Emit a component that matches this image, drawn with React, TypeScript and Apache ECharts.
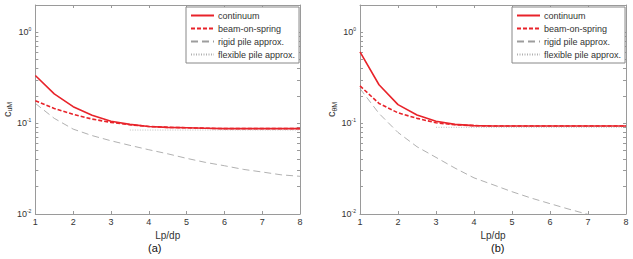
import React, { useEffect, useRef } from "react";
import * as echarts from "echarts";

const xs = [1, 1.5, 2, 2.5, 3, 3.5, 4, 4.5, 5, 5.5, 6, 6.5, 7, 7.5, 8];
const xTicks = [1, 2, 3, 4, 5, 6, 7, 8];
const yMajor = [0.01, 0.1, 1];
const yMinor = [0.02, 0.03, 0.04, 0.05, 0.06, 0.07, 0.08, 0.09, 0.2, 0.3, 0.4, 0.5, 0.6, 0.7, 0.8, 0.9, 2];

const aContinuum = [0.335, 0.21, 0.152, 0.122, 0.105, 0.097, 0.092, 0.09, 0.089, 0.088, 0.087, 0.087, 0.087, 0.087, 0.087];
const aBeam = [0.177, 0.145, 0.125, 0.111, 0.102, 0.096, 0.092, 0.09, 0.089, 0.088, 0.087, 0.087, 0.087, 0.087, 0.087];
const aRigid = [0.165, 0.113, 0.086, 0.073, 0.064, 0.057, 0.051, 0.046, 0.041, 0.037, 0.034, 0.031, 0.029, 0.027, 0.026];
const aFlexX = [3.5, 8];
const aFlex = [0.084, 0.084];

const bContinuum = [0.61, 0.265, 0.16, 0.123, 0.105, 0.097, 0.094, 0.093, 0.093, 0.093, 0.093, 0.093, 0.093, 0.093, 0.093];
const bBeam = [0.257, 0.165, 0.13, 0.113, 0.101, 0.096, 0.094, 0.093, 0.093, 0.093, 0.093, 0.093, 0.093, 0.093, 0.093];
const bRigid = [0.24, 0.128, 0.079, 0.055, 0.042, 0.032, 0.025, 0.021, 0.0176, 0.015, 0.013, 0.0113, 0.0099, 0.0087, 0.0077];
const bFlexX = [3, 8];
const bFlex = [0.09, 0.09];

const names = ["continuum", "beam-on-spring", "rigid pile approx.", "flexible pile approx."];

const FONT = "Liberation Sans, Arial, sans-serif";
const RED = "#e8232a";
const AXIS = "#9a9a9a";
const TXT = "#333";

function pairs(x: number[], y: number[]) {
  return x.map((v, i) => [v, y[i]]);
}

export default function App() {
  const ref = useRef<HTMLDivElement>(null);
  useEffect(() => {
    const chart = echarts.init(ref.current!, null, { renderer: "svg" });
    const grids = [
      { left: 34, top: 5, width: 266, height: 209 },
      { left: 360, top: 5, width: 266, height: 209 },
    ];
    const xAxis: any[] = [];
    const yAxis: any[] = [];
    const yName = ["{c|c}{s|uM}", "{c|c}{s|θM}"];
    const rich = {
      c: { fontSize: 11, color: TXT, fontFamily: FONT },
      s: { fontSize: 7, color: TXT, fontFamily: FONT, verticalAlign: "bottom", padding: [6, 0, 0, 0] },
    };
    grids.forEach((_, g) => {
      const baseX = {
        type: "value",
        gridIndex: g,
        min: 1,
        max: 8,
        interval: 1,
        splitLine: { show: false },
        axisLine: { lineStyle: { color: AXIS, width: 1 } },
        axisTick: { inside: true, length: 3, lineStyle: { color: AXIS } },
      };
      xAxis.push({
        ...baseX,
        position: "bottom",
        name: "Lp/dp",
        nameLocation: "middle",
        nameGap: 12,
        nameTextStyle: { fontSize: 10, color: TXT, fontFamily: FONT },
        axisLabel: { fontSize: 9, color: TXT, fontFamily: FONT, margin: 3, customValues: xTicks },
        axisTick: { ...baseX.axisTick, customValues: xTicks },
      });
      xAxis.push({
        ...baseX,
        position: "top",
        axisLabel: { show: false },
        axisTick: { ...baseX.axisTick, customValues: xTicks },
      });
      const baseY = {
        type: "log",
        logBase: 10,
        gridIndex: g,
        min: 0.01,
        max: 2,
        splitLine: { show: false },
        minorTick: { show: false },
        axisLine: { lineStyle: { color: AXIS, width: 1 } },
      };
      yAxis.push({
        ...baseY,
        position: "left",
        name: yName[g],
        nameLocation: "middle",
        nameRotate: 90,
        nameGap: 20,
        nameTextStyle: { rich },
        axisLabel: {
          customValues: yMajor,
          margin: 4,
          formatter: (v: number) => `{b|10}{e|${Math.round(Math.log10(v))}}`,
          rich: {
            b: { fontSize: 9, color: TXT, fontFamily: FONT },
            e: { fontSize: 5, color: TXT, fontFamily: FONT, verticalAlign: "top", padding: [0, 0, 6, 0] },
          },
        },
        axisTick: { inside: true, length: 3, customValues: [...yMajor, ...yMinor], lineStyle: { color: AXIS } },
      });
      yAxis.push({
        ...baseY,
        position: "right",
        axisLabel: { show: false },
        axisTick: { inside: true, length: 3, customValues: [...yMajor, ...yMinor], lineStyle: { color: AXIS } },
      });
    });

    const mk = (g: number, name: string, data: number[][], ls: any) => ({
      type: "line",
      name,
      xAxisIndex: g * 2,
      yAxisIndex: g * 2,
      data,
      symbol: "none",
      lineStyle: ls,
      itemStyle: { color: ls.color },
      clip: true,
      z: 2,
    });
    const styles = [
      { color: RED, width: 1.6, type: "solid" },
      { color: RED, width: 1.6, type: [4, 2] },
      { color: "#9d9d9d", width: 0.8, type: [7, 4] },
      { color: "#b0b0b0", width: 0.8, type: [1, 1.5] },
    ];
    const series = [
      mk(0, names[0], pairs(xs, aContinuum), styles[0]),
      mk(0, names[1], pairs(xs, aBeam), styles[1]),
      mk(0, names[2], pairs(xs, aRigid), styles[2]),
      mk(0, names[3], pairs(aFlexX, aFlex), styles[3]),
      mk(1, names[0], pairs(xs, bContinuum), styles[0]),
      mk(1, names[1], pairs(xs, bBeam), styles[1]),
      mk(1, names[2], pairs(xs, bRigid), styles[2]),
      mk(1, names[3], pairs(bFlexX, bFlex), styles[3]),
    ];
    const legendBase = {
      orient: "vertical",
      data: names,
      top: 7,
      itemWidth: 23,
      itemHeight: 8,
      itemGap: 4,
      padding: [4, 4, 4, 4],
      borderColor: "#888",
      borderWidth: 1,
      backgroundColor: "#fff",
      itemStyle: { opacity: 0 },
      textStyle: { fontSize: 9, color: TXT, fontFamily: FONT, padding: [0, 0, 0, -1] },
      selectedMode: false,
    };
    chart.setOption({
      animation: false,
      grid: grids,
      xAxis,
      yAxis,
      series,
      legend: [
        { ...legendBase, left: 186 },
        { ...legendBase, left: 512 },
      ],
      graphic: [
        { type: "text", left: 148, top: 242, style: { text: "(a)", fontSize: 11, fill: "#111", fontFamily: FONT } },
        { type: "text", left: 491, top: 242, style: { text: "(b)", fontSize: 11, fill: "#111", fontFamily: FONT } },
      ],
    });
    return () => chart.dispose();
  }, []);
  return <div ref={ref} style={{ width: 633, height: 259, position: "absolute", left: 0, top: 0, background: "#fff" }} />;
}
